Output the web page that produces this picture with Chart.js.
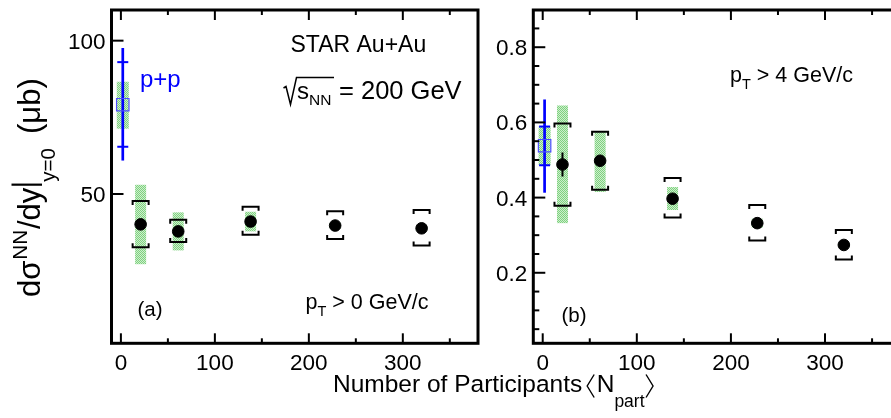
<!DOCTYPE html>
<html>
<head>
<meta charset="utf-8">
<script src="https://cdn.jsdelivr.net/npm/chart.js@4.4.0/dist/chart.umd.min.js"></script>
<style>
html, body { margin: 0; padding: 0; background: #fff; overflow: hidden; width: 891px; height: 418px; }
canvas { position: absolute; left: 0; top: 0; }
</style>
</head>
<body>
<canvas id="panelA" width="891" height="418"></canvas>
<canvas id="panelB" width="930" height="418"></canvas>
<script>
// centrality bins (Au+Au) and p+p reference
const nPart = [21, 61, 138, 228, 320];
const ppNPart = 2;

// (a) pT > 0 GeV/c
const yieldA = [40.1, 37.8, 41.0, 39.7, 38.8];
const statA = [0.6, 0.6, 0.6, 0.6, 0.6];
const sysHiA = [47.7, 41.6, 45.8, 44.4, 44.8];
const sysLoA = [32.6, 34.3, 36.7, 35.3, 33.2];
const bandHiA = [53.0, 44.0, 44.2, 40.6, 39.6];
const bandLoA = [27.1, 31.6, 37.8, 38.8, 38.0];
const ppA = 79.1;
const ppLineA = [60.9, 97.6];
const ppCapsA = [65.4, 93.0];
const ppBandA = [71.3, 86.6];

// (b) pT > 4 GeV/c
const yieldB = [0.488, 0.498, 0.397, 0.332, 0.274];
const statB = [0.032, 0.01, 0.01, 0.008, 0.008];
const sysHiB = [0.597, 0.575, 0.452, 0.380, 0.314];
const sysLoB = [0.378, 0.421, 0.347, 0.286, 0.235];
const bandHiB = [0.645, 0.577, 0.428, 0.344, 0.280];
const bandLoB = [0.332, 0.415, 0.367, 0.320, 0.268];
const ppB = 0.538;
const ppLineB = [0.413, 0.661];
const ppCapsB = [0.486, 0.589];
const ppBandB = [0.486, 0.589];

// axes
const xTicks = [0, 100, 200, 300];
const xMinorTicks = [50, 150, 250, 350];
const yTicksA = [50, 100];
const yLabelsA = ['50', '100'];
const yTicksB = [0.2, 0.4, 0.6, 0.8];
const yLabelsB = ['0.2', '0.4', '0.6', '0.8'];
const yMinorB = [0.05, 0.1, 0.15, 0.25, 0.3, 0.35, 0.45, 0.5, 0.55, 0.65, 0.7, 0.75, 0.85];

const FONT = '"Liberation Sans", Arial, Helvetica, sans-serif';
const BLUE = '#0000ff';

function greenPattern(ctx) {
  const c = document.createElement('canvas');
  c.width = 2; c.height = 2;
  const g = c.getContext('2d');
  g.fillStyle = '#cdeecd';
  g.fillRect(0, 0, 2, 2);
  g.fillStyle = '#7fd27f';
  g.fillRect(0, 0, 1, 1);
  g.fillRect(1, 1, 1, 1);
  return ctx.createPattern(c, 'repeat');
}

// draw a run of text pieces: {t, size, dy} or {gap}
function drawRich(ctx, x, y, parts) {
  for (const p of parts) {
    if (p.gap) { x += p.gap; continue; }
    ctx.font = p.size + 'px ' + FONT;
    ctx.fillText(p.t, x, y + (p.dy || 0));
    x += ctx.measureText(p.t).width;
  }
  return x;
}

function line(ctx, x1, y1, x2, y2) {
  ctx.beginPath();
  ctx.moveTo(x1, y1);
  ctx.lineTo(x2, y2);
  ctx.stroke();
}

function makePanel(id, d) {
  const canvas = document.getElementById(id);
  const ctx = canvas.getContext('2d');
  const pattern = greenPattern(ctx);

  const errors = {
    id: 'errors',
    beforeDatasetsDraw(chart) {
      const { ctx } = chart;
      const x = chart.scales.x, y = chart.scales.y;
      ctx.save();
      // green bands
      ctx.fillStyle = pattern;
      d.values.forEach((v, i) => {
        const px = x.getPixelForValue(nPart[i]);
        const t = y.getPixelForValue(d.bandHi[i]), b = y.getPixelForValue(d.bandLo[i]);
        ctx.fillRect(px - 5.5, t, 11, b - t);
      });
      const ppx = x.getPixelForValue(ppNPart);
      const pt = y.getPixelForValue(d.ppBand[1]), pb = y.getPixelForValue(d.ppBand[0]);
      ctx.fillRect(ppx - 6, pt, 12, pb - pt);
      // p+p error bar
      ctx.strokeStyle = BLUE;
      ctx.lineWidth = 2.7;
      line(ctx, ppx, y.getPixelForValue(d.ppLine[1]), ppx, y.getPixelForValue(d.ppLine[0]));
      ctx.lineWidth = 2;
      d.ppCaps.forEach(c => {
        const py = y.getPixelForValue(c);
        line(ctx, ppx - 5.5, py, ppx + 5.5, py);
      });
      // Au+Au stat and sys
      ctx.strokeStyle = '#000';
      ctx.lineWidth = 2;
      d.values.forEach((v, i) => {
        const px = x.getPixelForValue(nPart[i]);
        line(ctx, px, y.getPixelForValue(v + d.stat[i]), px, y.getPixelForValue(v - d.stat[i]));
        const t = y.getPixelForValue(d.sysHi[i]), b = y.getPixelForValue(d.sysLo[i]);
        ctx.beginPath();
        ctx.moveTo(px - 8, t + 4); ctx.lineTo(px - 8, t); ctx.lineTo(px + 8, t); ctx.lineTo(px + 8, t + 4);
        ctx.moveTo(px - 8, b - 4); ctx.lineTo(px - 8, b); ctx.lineTo(px + 8, b); ctx.lineTo(px + 8, b - 4);
        ctx.stroke();
      });
      ctx.restore();
    },
    afterDraw(chart) {
      const { ctx, chartArea: a } = chart;
      const x = chart.scales.x, y = chart.scales.y;
      ctx.save();
      ctx.strokeStyle = '#000';
      ctx.fillStyle = '#000';
      // ticks
      ctx.lineWidth = 2;
      xTicks.forEach(v => {
        const px = x.getPixelForValue(v);
        line(ctx, px, a.bottom, px, a.bottom - 10);
        line(ctx, px, a.top, px, a.top + 10);
      });
      xMinorTicks.forEach(v => {
        const px = x.getPixelForValue(v);
        line(ctx, px, a.bottom, px, a.bottom - 5);
        line(ctx, px, a.top, px, a.top + 5);
      });
      d.yTicks.forEach(v => {
        const py = y.getPixelForValue(v);
        line(ctx, a.left, py, a.left + 12, py);
      });
      d.yMinor.forEach(v => {
        const py = y.getPixelForValue(v);
        line(ctx, a.left, py, a.left + 6, py);
      });
      // frame
      ctx.lineWidth = 3;
      ctx.strokeRect(a.left, a.top, a.right - a.left, a.bottom - a.top);
      // tick labels
      ctx.font = '22.5px ' + FONT;
      ctx.textAlign = 'center';
      ctx.textBaseline = 'alphabetic';
      xTicks.forEach(v => ctx.fillText(String(v), x.getPixelForValue(v), 369.5));
      ctx.textAlign = 'right';
      d.yTicks.forEach((v, i) => ctx.fillText(d.yLabels[i], a.left - 6, y.getPixelForValue(v) + 8));
      ctx.textAlign = 'left';
      d.texts(ctx);
      ctx.restore();
    }
  };

  return new Chart(canvas, {
    type: 'scatter',
    data: {
      datasets: [
        {
          data: d.values.map((v, i) => ({ x: nPart[i], y: v })),
          pointRadius: 5.8,
          pointBackgroundColor: '#000',
          pointBorderColor: '#000',
          pointBorderWidth: 1
        },
        {
          data: [{ x: ppNPart, y: d.pp }],
          pointStyle: 'rect',
          pointRadius: 8.8,
          pointBackgroundColor: 'rgba(0,0,0,0)',
          pointBorderColor: '#4d4dff',
          pointBorderWidth: 1.2
        }
      ]
    },
    options: {
      responsive: false,
      animation: false,
      events: [],
      layout: { padding: d.padding },
      plugins: { legend: { display: false }, tooltip: { enabled: false } },
      scales: {
        x: { type: 'linear', min: -10, max: 380, display: false },
        y: { type: 'linear', min: d.yMin, max: d.yMax, display: false }
      }
    },
    plugins: [errors]
  });
}

makePanel('panelA', {
  values: yieldA, stat: statA, sysHi: sysHiA, sysLo: sysLoA, bandHi: bandHiA, bandLo: bandLoA,
  pp: ppA, ppLine: ppLineA, ppCaps: ppCapsA, ppBand: ppBandA,
  yMin: 1.3, yMax: 110, yTicks: yTicksA, yLabels: yLabelsA, yMinor: [],
  padding: { left: 111.5, top: 6.3, right: 891 - 478, bottom: 418 - 343.3 },
  texts(ctx) {
    drawRich(ctx, 290.5, 52.3, [{ t: 'STAR Au+Au', size: 23 }]);
    // sqrt(s_NN) = 200 GeV
    ctx.lineWidth = 1.5;
    ctx.beginPath();
    ctx.moveTo(283.5, 88); ctx.lineTo(286, 86.5); ctx.lineTo(290.5, 104.5);
    ctx.lineTo(296.5, 77.5); ctx.lineTo(334, 77.5);
    ctx.stroke();
    drawRich(ctx, 297, 98.5, [{ t: 's', size: 24 }, { t: 'NN', size: 15.5, dy: 6.5 }]);
    drawRich(ctx, 339, 98.5, [{ t: '= 200 GeV', size: 25.5 }]);
    ctx.fillStyle = BLUE;
    drawRich(ctx, 140, 86.7, [{ t: 'p+p', size: 24 }]);
    ctx.fillStyle = '#000';
    drawRich(ctx, 137.5, 316, [{ t: '(a)', size: 20.5 }]);
    drawRich(ctx, 305.5, 308.5, [
      { t: 'p', size: 21.5 }, { t: 'T', size: 14.5, dy: 7 }, { t: ' > 0 GeV/c', size: 21.5 }
    ]);
    // x title
    let xe = drawRich(ctx, 333, 391.7, [{ t: 'Number of Participants', size: 24.5 }]);
    ctx.lineWidth = 1.4;
    ctx.beginPath();
    ctx.moveTo(xe + 12, 374.5); ctx.lineTo(xe + 5, 386); ctx.lineTo(xe + 12, 397.5);
    ctx.stroke();
    xe = drawRich(ctx, xe + 14.5, 391.7, [{ t: 'N', size: 24.5 }, { t: 'part', size: 17.5, dy: 15 }]);
    ctx.beginPath();
    ctx.moveTo(xe + 1.5, 374.5); ctx.lineTo(xe + 8.5, 386); ctx.lineTo(xe + 1.5, 397.5);
    ctx.stroke();
    // y title (rotated)
    ctx.save();
    ctx.translate(40, 297);
    ctx.rotate(-Math.PI / 2);
    let ye = drawRich(ctx, 0, 0, [
      { t: 'd\u03c3', size: 31 }, { gap: 1 }, { t: 'NN', size: 20.5, dy: -13.5 }, { gap: 1 }, { t: '/dy', size: 31 }
    ]);
    ctx.lineWidth = 2.2;
    line(ctx, ye + 3, 2, ye + 3, -28.5);
    drawRich(ctx, ye + 6, 0, [
      { t: 'y=0', size: 20.5, dy: 15 }, { gap: 14 }, { t: '(\u03bcb)', size: 31 }
    ]);
    ctx.restore();
  }
});

makePanel('panelB', {
  values: yieldB, stat: statB, sysHi: sysHiB, sysLo: sysLoB, bandHi: bandHiB, bandLo: bandLoB,
  pp: ppB, ppLine: ppLineB, ppCaps: ppCapsB, ppBand: ppBandB,
  yMin: 0.0124, yMax: 0.899, yTicks: yTicksB, yLabels: yLabelsB, yMinor: yMinorB,
  padding: { left: 533.3, top: 6.3, right: 930 - 900.3, bottom: 418 - 343.3 },
  texts(ctx) {
    drawRich(ctx, 561.5, 321.5, [{ t: '(b)', size: 20.5 }]);
    drawRich(ctx, 730, 81.7, [
      { t: 'p', size: 21.5 }, { t: 'T', size: 14.5, dy: 7 }, { t: ' > 4 GeV/c', size: 21.5 }
    ]);
  }
});
</script>
</body>
</html>
